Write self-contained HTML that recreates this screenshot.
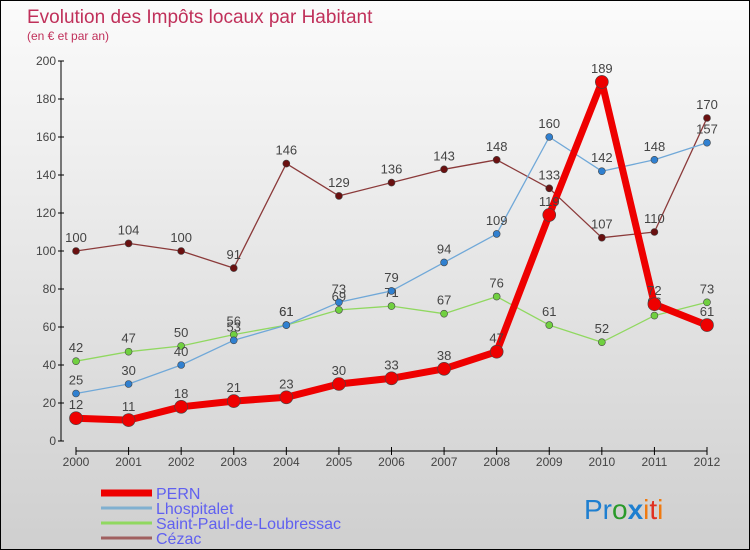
<!DOCTYPE html>
<html><head><meta charset="utf-8"><style>
html,body{margin:0;padding:0}
body{width:750px;height:550px;overflow:hidden;font-family:"Liberation Sans",sans-serif}
#wrap{position:absolute;left:0;top:0;width:748px;height:548px;border:1px solid #000;background:linear-gradient(#fbfbfb,#cfcfcf)}
</style></head><body>
<div id="wrap">
<svg id="chart" width="748" height="548" style="position:absolute;left:0;top:0">
<text x="26" y="22" font-size="19" fill="#c0305a">Evolution des Impôts locaux par Habitant</text>
<text x="26" y="39" font-size="12" fill="#c0305a">(en € et par an)</text>
<g id="axes"></g><g id="series"></g><g id="legend"></g>
<text x="583" y="518" font-size="28"><tspan fill="#1e7fd0">Pr</tspan><tspan fill="#2a9a2a">o</tspan><tspan fill="#1e7fd0" font-weight="bold">x</tspan><tspan fill="#f07a10">i</tspan><tspan fill="#e03020">t</tspan><tspan fill="#f07a10">i</tspan></text>
</svg></div>
<script>
const years=[2000,2001,2002,2003,2004,2005,2006,2007,2008,2009,2010,2011,2012];
const yTicks=[0,20,40,60,80,100,120,140,160,180,200];
const pern=[12,11,18,21,23,30,33,38,47,119,189,72,61];
const lhospitalet=[25,30,40,53,61,73,79,94,109,160,142,148,157];
const saintPaul=[42,47,50,56,61,69,71,67,76,61,52,66,73];
const cezac=[100,104,100,91,146,129,136,143,148,133,107,110,170];
const seriesNames=["PERN","Lhospitalet","Saint-Paul-de-Loubressac","Cézac"];
const NS="http://www.w3.org/2000/svg";
const X=i=>75+i*(631/12);
const Y=v=>440-v*1.9;
function mk(tag,attrs,parent){const e=document.createElementNS(NS,tag);for(const k in attrs)e.setAttribute(k,attrs[k]);parent.appendChild(e);return e;}
const ax=document.getElementById('axes');
const yl=mk('line',{x1:60,y1:Y(200),x2:60,y2:Y(0),stroke:'#000'},ax);


yTicks.forEach(t=>{
 mk('line',{x1:57,x2:63,y1:Y(t),y2:Y(t),stroke:'#000'},ax);
 const tx=mk('text',{x:55,y:Y(t)+4,'font-size':12,fill:'#444','text-anchor':'end'},ax);tx.textContent=t;
 
 
});
const xl=mk('line',{x1:X(0),y1:450,x2:X(12),y2:450,stroke:'#000'},ax);


years.forEach((yr,i)=>{
 mk('line',{x1:X(i),x2:X(i),y1:446,y2:454,stroke:'#000'},ax);
 const tx=mk('text',{x:X(i),y:465,'font-size':12,fill:'#444','text-anchor':'middle'},ax);tx.textContent=yr;
 
 
});
const sg=document.getElementById('series');
function draw(vals,color,w,r,dot,key){
 const g=mk('g',{},sg);
 
 
 mk('polyline',{points:vals.map((v,i)=>X(i)+','+Y(v)).join(' '),fill:'none',stroke:color,'stroke-width':w,'stroke-linejoin':'round'},g);
 vals.forEach((v,i)=>{
  const c=mk('circle',{cx:X(i),cy:Y(v),r:r,fill:dot,stroke:'#444','stroke-width':0.6},g);
  
  
  const t=mk('text',{x:X(i),y:Y(v)-9,'font-size':13,fill:'#444','text-anchor':'middle'},g);t.textContent=v;
  
  
 });
}
draw(cezac,'#8b3a3a',1.3,3.5,'#6a1010','cezac');
draw(saintPaul,'#90d860',1.3,3.5,'#70d040','saint-paul');
draw(lhospitalet,'#70a8d8',1.3,3.5,'#3080d0','lhospitalet');
draw(pern,'#ee0000',7,6.5,'#ee0000','pern');
const lg=document.getElementById('legend');
const lc=['#ee0000','#80b0d0','#90d860','#a06060'],lw=[7,3,3,3];
seriesNames.forEach((n,i)=>{
 const y=492+i*15;
 const l=mk('line',{x1:100,x2:151,y1:y,y2:y,stroke:lc[i],'stroke-width':lw[i]},lg);
 
 
 const t=mk('text',{x:155,y:y+6,'font-size':16,fill:'#6060f0'},lg);t.textContent=n;
 
 
});
</script>
</body></html>
